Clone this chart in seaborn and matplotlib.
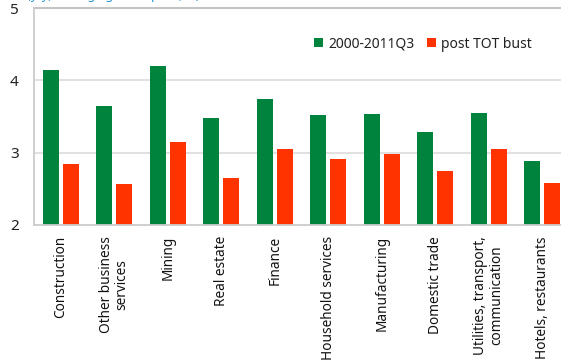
import matplotlib
matplotlib.use("Agg")
import matplotlib.pyplot as plt
import seaborn as sns
import pandas as pd

sectors = [
    "Construction",
    "Other business\nservices",
    "Mining",
    "Real estate",
    "Finance",
    "Household services",
    "Manufacturing",
    "Domestic trade",
    "Utilities, transport,\ncommunication",
    "Hotels, restaurants",
]
pre_bust = [4.14, 3.64, 4.20, 3.48, 3.74, 3.52, 3.53, 3.28, 3.55, 2.89]
post_bust = [2.85, 2.57, 3.15, 2.65, 3.05, 2.91, 2.98, 2.74, 3.05, 2.58]
series_names = ["2000-2011Q3", "post TOT bust"]
y_ticks = [2, 3, 4, 5]

df = pd.DataFrame({
    "sector": sectors * 2,
    "value": pre_bust + post_bust,
    "period": [series_names[0]] * len(sectors) + [series_names[1]] * len(sectors),
})

sns.set_style("white")
plt.rcParams["font.family"] = ["Noto Sans", "DejaVu Sans"]

fig = plt.figure(figsize=(5.61, 3.62), dpi=100)
ax = fig.add_axes([34 / 561, 1 - 225 / 362, 535 / 561, 217 / 362])

palette = {series_names[0]: "#00843d", series_names[1]: "#ff3300"}
sns.barplot(data=df, x="sector", y="value", hue="period", palette=palette,
            width=0.748, gap=0.2, saturation=1, ax=ax, legend=True,
            edgecolor="none")

ax.set_ylim(2, 5)
ax.set_xlim(-0.5, 9.5)
ax.set_yticks(y_ticks)
ax.set_yticklabels([str(t) for t in y_ticks], fontsize=11, color="#222222")
ax.set_xticks(range(len(sectors)))
ax.set_xticklabels(sectors, rotation=90, fontsize=9.8, color="#111111",
                   ha="center", va="top", multialignment="center",
                   linespacing=1.05)
ax.tick_params(axis="both", length=0)
ax.tick_params(axis="y", pad=11)
ax.tick_params(axis="x", pad=8)
ax.set_xlabel("")
ax.set_ylabel("")

for y in [3, 4]:
    ax.axhline(y, color="#dcdcdc", linewidth=1.2, zorder=0)
ax.axhline(5, color="#c4c4c4", linewidth=1.5, zorder=0, clip_on=False)
for side in ["top", "right"]:
    ax.spines[side].set_visible(False)
for side in ["left", "bottom"]:
    ax.spines[side].set_color("#cccccc")
    ax.spines[side].set_linewidth(1.3)

leg = ax.legend(loc="center left", bbox_to_anchor=(308 / 561, 1 - 44 / 362),
                bbox_transform=fig.transFigure, ncol=2, frameon=False,
                fontsize=10, handlelength=0.65, handleheight=0.65,
                handletextpad=0.4, columnspacing=0.9, borderaxespad=0)
for t in leg.get_texts():
    t.set_color("#222222")

fig.text(27 / 561, 1 + 1.5 / 362, "(y/y, average growth pace, %)",
         fontsize=9, color="#2a96d4", va="baseline", ha="left")

fig.savefig("out.png", dpi=100)
